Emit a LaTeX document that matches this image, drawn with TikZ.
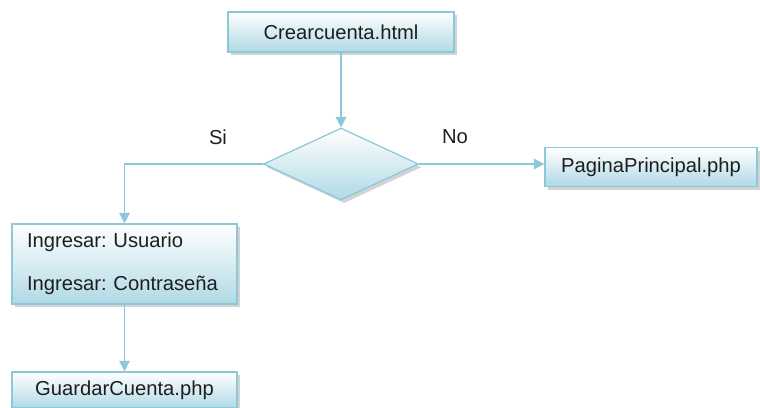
\documentclass[tikz,border=0pt]{standalone}
\usepackage{fontspec}
\setmainfont{Liberation Sans}
\frenchspacing
\usetikzlibrary{shapes.geometric,shadows,arrows.meta}
\definecolor{lineblue}{RGB}{140,200,218}
\definecolor{fillblue}{RGB}{176,217,229}
\definecolor{txtgray}{RGB}{30,30,30}
\tikzset{
  pagebox/.style={draw=lineblue, line width=0.7pt, top color=white, bottom color=fillblue,
    drop shadow={shadow xshift=1.8pt, shadow yshift=-1.8pt, opacity=0.35},
    inner sep=0pt, text=txtgray, font=\fontsize{11.5}{13}\selectfont},
  decision/.style={diamond, draw=lineblue, line width=0.7pt, top color=white, bottom color=fillblue,
    drop shadow={shadow xshift=1.8pt, shadow yshift=-1.8pt, opacity=0.35}, inner sep=0pt},
  flow/.style={draw=lineblue, line width=0.9pt, -{Triangle[length=6pt,width=6pt]}},
  branch/.style={text=txtgray, font=\fontsize{11.5}{13}\selectfont}
}
\begin{document}
\begin{tikzpicture}[x=0.02cm, y=-0.02cm]
    \useasboundingbox (0,0) rectangle (760,407);
    \node[pagebox, minimum width=4.52cm, minimum height=0.8cm] (crear) at (341,32) {Crearcuenta.html};
    \node[decision, minimum width=3.1cm, minimum height=1.44cm] (dec) at (341,164) {};
    \node[pagebox, minimum width=4.24cm, minimum height=0.78cm] (pagina) at (651,167) {PaginaPrincipal.php};
    \node[pagebox, minimum width=4.5cm, minimum height=1.6cm, text width=3.9cm, align=left,
          inner xsep=0.3cm, font=\fontsize{11.5}{24.5}\selectfont] (ingresar) at (124.5,264)
          {Ingresar: Usuario\\Ingresar: Contraseña};
    \node[pagebox, minimum width=4.5cm, minimum height=0.72cm] (guardar) at (124.5,390) {GuardarCuenta.php};
    \node[branch] (lblsi) at (218,137) {Si};
    \node[branch] (lblno) at (455,137) {No};
    % connectors
    \draw[flow] (crear) -- (dec.north);
    \draw[flow] (dec.west) -| (ingresar.north);
    \draw[flow] (dec.east) -- (dec.east -| pagina.west);
    \draw[flow] (ingresar) -- (guardar);
\end{tikzpicture}
\end{document}
